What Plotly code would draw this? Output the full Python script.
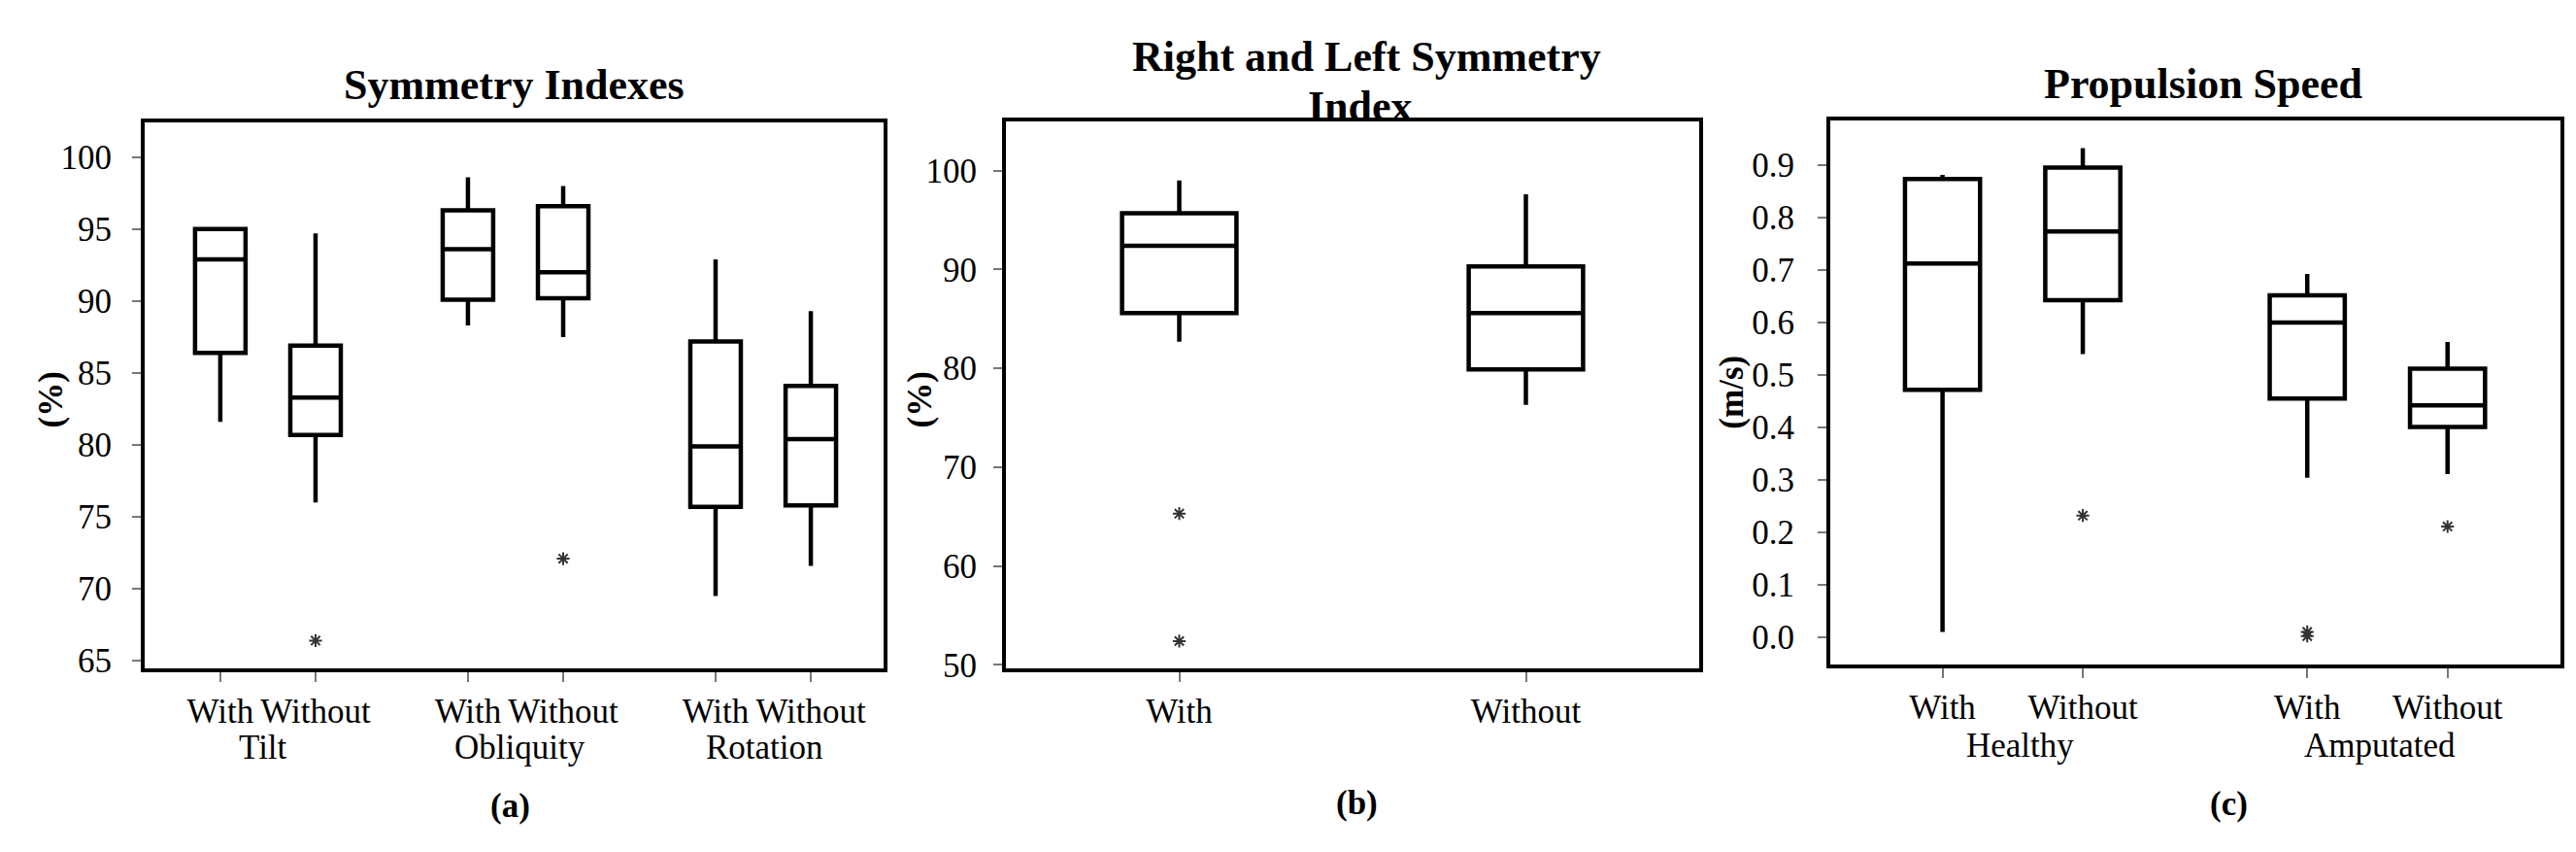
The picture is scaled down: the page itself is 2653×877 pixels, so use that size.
import plotly.graph_objects as go

W, H = 2653, 877

# ---------------- Data ----------------
# Panel (a) Symmetry Indexes
a_labels = ["With", "Without", "With", "Without", "With", "Without"]
a_pos = [1, 2, 3.6, 4.6, 6.2, 7.2]
a_groups = ["Tilt", "Obliquity", "Rotation"]
a_group_pos = [1.45, 4.15, 6.72]
a_low = [81.6, 76.0, 88.3, 87.5, 69.5, 71.6]
a_q1 = [86.4, 80.7, 90.1, 90.2, 75.7, 75.8]
a_med = [92.9, 83.3, 93.6, 92.0, 79.9, 80.4]
a_q3 = [95.0, 86.9, 96.3, 96.6, 87.2, 84.1]
a_high = [95.0, 94.7, 98.6, 98.0, 92.9, 89.3]
a_out_x = [2, 4.6]
a_out_y = [66.4, 72.1]
a_ticks = [65, 70, 75, 80, 85, 90, 95, 100]

# Panel (b) Right and Left Symmetry Index
b_labels = ["With", "Without"]
b_pos = [1, 2]
b_low = [82.7, 76.3]
b_q1 = [85.6, 79.9]
b_med = [92.4, 85.6]
b_q3 = [95.7, 90.3]
b_high = [99.0, 97.6]
b_out_x = [1, 1]
b_out_y = [65.3, 52.4]
b_ticks = [50, 60, 70, 80, 90, 100]

# Panel (c) Propulsion Speed
c_labels = ["With", "Without", "With", "Without"]
c_pos = [1, 2, 3.6, 4.6]
c_groups = ["Healthy", "Amputated"]
c_group_pos = [1.55, 4.12]
c_low = [0.010, 0.540, 0.304, 0.311]
c_q1 = [0.472, 0.643, 0.455, 0.401]
c_med = [0.713, 0.774, 0.600, 0.442]
c_q3 = [0.874, 0.896, 0.652, 0.512]
c_high = [0.882, 0.933, 0.693, 0.563]
c_out_x = [2, 3.6, 3.6, 4.6]
c_out_y = [0.232, 0.002, 0.010, 0.211]
c_ticks = [0.0, 0.1, 0.2, 0.3, 0.4, 0.5, 0.6, 0.7, 0.8, 0.9]

FONT = "Liberation Serif"


def px(x):
    return x / W


def py(y):
    return 1 - y / H


fig = go.Figure()


def add_panel(xa, ya, pos, low, q1, med, q3, high, width, ox, oy):
    fig.add_trace(go.Box(
        x=pos, lowerfence=low, q1=q1, median=med, q3=q3, upperfence=high,
        width=width, whiskerwidth=0, boxpoints=False,
        line=dict(color="black", width=4.5), fillcolor="white",
        xaxis=xa, yaxis=ya, showlegend=False, hoverinfo="skip"))
    fig.add_trace(go.Scatter(
        x=ox, y=oy, mode="markers", xaxis=xa, yaxis=ya, showlegend=False,
        marker=dict(symbol="asterisk-open", size=11, color="#333333",
                    line=dict(color="#333333", width=2))))


add_panel("x", "y", a_pos, a_low, a_q1, a_med, a_q3, a_high, 0.53, a_out_x, a_out_y)
add_panel("x2", "y2", b_pos, b_low, b_q1, b_med, b_q3, b_high, 0.33, b_out_x, b_out_y)
add_panel("x3", "y3", c_pos, c_low, c_q1, c_med, c_q3, c_high, 0.535, c_out_x, c_out_y)

tickfont = dict(family=FONT, size=35, color="black")
common_x = dict(showline=True, mirror=True, linewidth=4, linecolor="black",
                ticks="outside", ticklen=10, tickwidth=2, tickcolor="#777777",
                showgrid=False, zeroline=False, tickfont=tickfont,
                ticklabelstandoff=0)
common_y = dict(showline=True, mirror=True, linewidth=4, linecolor="black",
                ticks="outside", ticklen=9, tickwidth=2, tickcolor="#777777",
                showgrid=False, zeroline=False, tickfont=tickfont)

fig.update_layout(
    width=W, height=H,
    margin=dict(l=0, r=0, t=0, b=0),
    paper_bgcolor="white", plot_bgcolor="white",
    xaxis=dict(domain=[px(141), px(902)], range=[0.206, 7.964],
               tickvals=a_pos, ticktext=a_labels, anchor="y", **common_x),
    yaxis=dict(domain=[py(693), py(120)], range=[64.45, 102.43],
               tickvals=a_ticks, anchor="x", ticklabelstandoff=14, **common_y),
    xaxis2=dict(domain=[px(1028), px(1742)], range=[0.5, 2.5],
                tickvals=b_pos, ticktext=b_labels, anchor="y2", **common_x),
    yaxis2=dict(domain=[py(693), py(119)], range=[49.6, 105.0],
                tickvals=b_ticks, anchor="x2", ticklabelstandoff=10, **common_y),
    xaxis3=dict(domain=[px(1877), px(2629)], range=[0.2, 5.405],
                tickvals=c_pos, ticktext=c_labels, anchor="y3", **common_x),
    yaxis3=dict(domain=[py(689), py(118)], range=[-0.053, 0.986],
                tickvals=c_ticks, tickformat=".1f", anchor="x3",
                ticklabelstandoff=17, **common_y),
)

ann = []
tfont = dict(family=FONT, size=44, color="black")
lfont = dict(family=FONT, size=35, color="black")

# titles
ann.append(dict(text="<b>Symmetry Indexes</b>", x=px(521), y=py(81), font=tfont))
ann.append(dict(text="<b>Right and Left Symmetry</b>", x=px(1399), y=py(51), font=tfont))
ann.append(dict(text="<b>Index</b>", x=px(1393), y=py(103), font=tfont))
ann.append(dict(text="<b>Propulsion Speed</b>", x=px(2261), y=py(80), font=tfont))

# y-axis titles
ann.append(dict(text="<b>(%)</b>", x=px(45), y=py(411), textangle=-90, font=lfont))
ann.append(dict(text="<b>(%)</b>", x=px(940), y=py(411), textangle=-90, font=lfont))
ann.append(dict(text="<b>(m/s)</b>", x=px(1776), y=py(403), textangle=-90, font=lfont))

# panel letters
ann.append(dict(text="<b>(a)</b>", x=px(517), y=py(837), font=lfont))
ann.append(dict(text="<b>(b)</b>", x=px(1389), y=py(834), font=lfont))
ann.append(dict(text="<b>(c)</b>", x=px(2287), y=py(835), font=lfont))

for a in ann:
    a.update(xref="paper", yref="paper", showarrow=False,
             xanchor="center", yanchor="middle")

# group labels
for g, gx in zip(a_groups, a_group_pos):
    ann.append(dict(text=g, x=gx, xref="x", y=py(776), yref="paper",
                    showarrow=False, xanchor="center", yanchor="middle", font=lfont))
for g, gx in zip(c_groups, c_group_pos):
    ann.append(dict(text=g, x=gx, xref="x3", y=py(774), yref="paper",
                    showarrow=False, xanchor="center", yanchor="middle", font=lfont))

fig.update_layout(annotations=ann)

fig.write_html("out.html")
